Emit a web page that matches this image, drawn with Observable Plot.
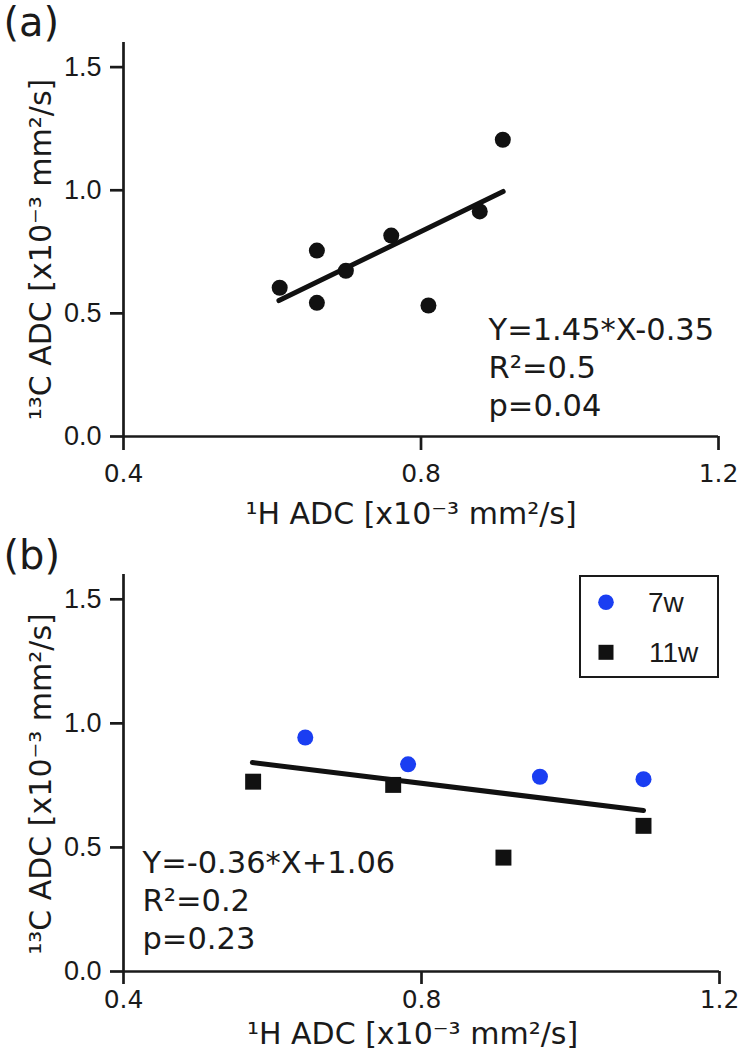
<!DOCTYPE html>
<html><head><meta charset="utf-8">
<script src="https://cdn.jsdelivr.net/npm/d3@7"></script>
<script src="https://cdn.jsdelivr.net/npm/@observablehq/plot@0.6"></script>
<style>
html,body{margin:0;padding:0;background:#fff;}
#wrap{position:relative;width:740px;height:1050px;overflow:hidden;}
#wrap svg{display:block;}
#legend{position:absolute;left:579px;top:575px;width:140px;height:103px;box-sizing:border-box;border:2px solid #1a1a1a;background:#fff;}
</style></head><body><div id="wrap"></div>
<script>
// ---- data ----
const xTicks = [0.4, 0.8, 1.2];
const yTicks = [0.0, 0.5, 1.0, 1.5];
const xLabel = "¹H ADC [x10⁻³ mm²/s]";
const yLabel = "¹³C ADC [x10⁻³ mm²/s]";

// panel (a)
const aX = [0.610, 0.660, 0.660, 0.699, 0.760, 0.810, 0.879, 0.910];
const aY = [0.604, 0.755, 0.543, 0.673, 0.816, 0.532, 0.914, 1.205];
const aFitX = [0.609, 0.9105];
const aFitY = [0.552, 0.995];
const aStats = ["Y=1.45*X-0.35", "R²=0.5", "p=0.04"];

// panel (b)
const seriesNames = ["7w", "11w"];
const b7X = [0.644, 0.782, 0.959, 1.098];
const b7Y = [0.943, 0.835, 0.785, 0.775];
const b11X = [0.574, 0.762, 0.910, 1.098];
const b11Y = [0.765, 0.752, 0.459, 0.587];
const bFitX = [0.573, 1.098];
const bFitY = [0.842, 0.649];
const bStats = ["Y=-0.36*X+1.06", "R²=0.2", "p=0.23"];

// ---- helpers ----
const ink = "#1a1a1a";
const blue = "#1a3ef2";
const zip = (xs, ys) => xs.map((x, i) => ({x, y: ys[i]}));
const f1 = d3.format(".1f");

function panel(o) {
  return Plot.plot({
    width: 740,
    height: o.height,
    marginTop: o.marginTop,
    marginBottom: o.marginBottom,
    marginLeft: 123,
    marginRight: o.marginRight,
    style: {color: ink, background: "#fff", overflow: "visible"},
    x: {domain: [0.4, 1.2], axis: null},
    y: {domain: [0, 1.6], axis: null},
    marks: [
      Plot.ruleX([0.4], {stroke: ink, strokeWidth: 2.7}),
      Plot.ruleY([0], {stroke: ink, strokeWidth: 2.7}),
      Plot.axisX({ticks: xTicks, tickFormat: f1, tickSize: o.tickX, tickPadding: o.padX,
        strokeWidth: 2.7, fontSize: 25, fontFamily: "DejaVu Sans", label: null}),
      Plot.axisY({ticks: yTicks, tickFormat: f1, tickSize: 13, tickPadding: 9,
        strokeWidth: 2.7, fontSize: 27, fontFamily: "Liberation Sans", label: null}),
      ...o.marks,
      Plot.text([o.stats.join("\n")], {frameAnchor: "top-left", dx: o.statsDx, dy: o.statsDy,
        textAnchor: "start", lineAnchor: "bottom", lineHeight: 1.235,
        fontSize: 30.5, fontFamily: "DejaVu Sans", fill: ink}),
      Plot.text([xLabel], {frameAnchor: "bottom", dx: o.xLabDx, dy: o.xLabDy,
        textAnchor: "middle", lineAnchor: "bottom",
        fontSize: 30, fontFamily: "DejaVu Sans", fill: ink}),
      Plot.text([yLabel], {frameAnchor: "left", dx: -73, dy: o.yLabDy, rotate: -90,
        textAnchor: "middle", lineAnchor: "bottom",
        fontSize: 30, fontFamily: "DejaVu Sans", fill: ink}),
      Plot.text([o.tag], {frameAnchor: "top-left", dx: -120, dy: o.tagDy, textAnchor: "start",
        lineAnchor: "bottom", fontSize: 40, fontFamily: "DejaVu Sans", fill: ink})
    ]
  });
}

const wrap = document.getElementById("wrap");

wrap.append(panel({
  height: 530, marginTop: 42, marginBottom: 94, marginRight: 22,
  tickX: 14, padX: 14,
  statsDx: 365, statsDy: 373,
  xLabDx: -10, xLabDy: 87, yLabDy: 10, tagDy: -7, tag: "(a)",
  stats: aStats,
  marks: [
    Plot.line(zip(aFitX, aFitY), {x: "x", y: "y", stroke: "#111", strokeWidth: 5}),
    Plot.dot(zip(aX, aY), {x: "x", y: "y", r: 8, fill: "#111", stroke: "none"})
  ]
}));

wrap.append(panel({
  height: 520, marginTop: 44, marginBottom: 79, marginRight: 21,
  tickX: 13, padX: 6,
  statsDx: 19, statsDy: 374,
  xLabDx: -9, xLabDy: 72, yLabDy: 11, tagDy: -6, tag: "(b)",
  stats: bStats,
  marks: [
    Plot.line(zip(bFitX, bFitY), {x: "x", y: "y", stroke: "#111", strokeWidth: 5}),
    Plot.dot(zip(b7X, b7Y), {x: "x", y: "y", r: 8, fill: blue, stroke: "none", symbol: "circle"}),
    Plot.dot(zip(b11X, b11Y), {x: "x", y: "y", r: 9, fill: "#111", stroke: "none", symbol: "square"})
  ]
}));

// legend for panel (b)
const leg = document.createElement("div");
leg.id = "legend";
const ls = d3.create("svg").attr("width", 136).attr("height", 99)
  .attr("font-family", "Liberation Sans").attr("font-size", 28).attr("fill", ink);
ls.append("circle").attr("cx", 25).attr("cy", 25.3).attr("r", 7.8).attr("fill", blue);
ls.append("text").attr("x", 67).attr("y", 34.7).text(seriesNames[0]);
ls.append("rect").attr("x", 17.5).attr("y", 67.8).attr("width", 15).attr("height", 15).attr("fill", "#111");
ls.append("text").attr("x", 68).attr("y", 84.7).text(seriesNames[1]);
leg.append(ls.node());
wrap.append(leg);
</script></body></html>
